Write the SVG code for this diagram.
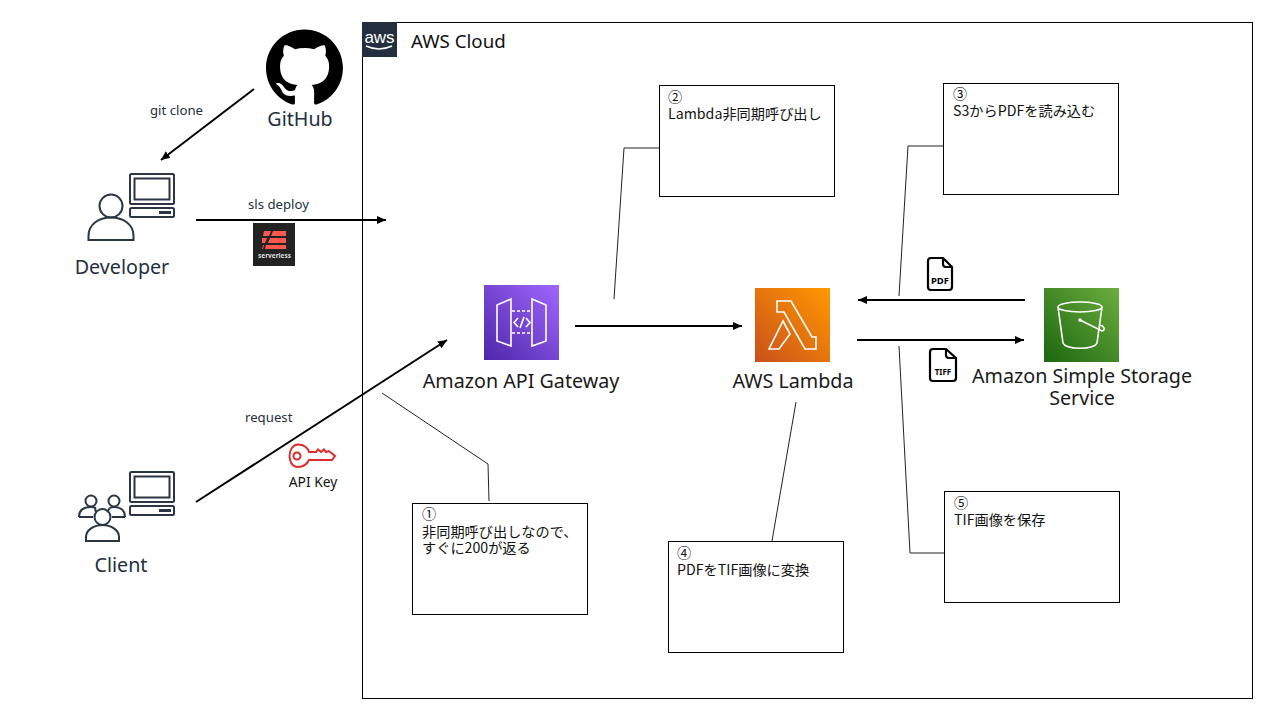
<svg xmlns="http://www.w3.org/2000/svg" width="1280" height="720" viewBox="0 0 1280 720">
<style>
text{font-family:"Noto Sans","Noto Sans CJK JP",sans-serif;fill:#000}
.cjk{font-family:"Noto Sans CJK JP","Noto Sans",sans-serif;font-size:14.2px;fill:#111}
.lbl{font-size:19.7px;fill:#1a1a1a}
.dark{font-size:19.7px;fill:#232f3e}
.small{font-size:13.2px;fill:#232f3e}
.box{fill:#fff;stroke:#000;stroke-width:1}
.ln{fill:none;stroke:#222;stroke-width:1}
.ar{fill:none;stroke:#000;stroke-width:2}
.ic{fill:none;stroke:#2b3544;stroke-width:2}
.wh{fill:none;stroke:#fff;stroke-width:1.6}
.file{fill:none;stroke:#000;stroke-width:2.2;stroke-linejoin:round}
</style>
<defs>
<marker id="a" markerUnits="userSpaceOnUse" markerWidth="10" markerHeight="10" refX="9" refY="5" orient="auto"><path d="M0 1L9 5L0 9z" fill="#000"/></marker>
<linearGradient id="gp" x1="0" y1="1" x2="1" y2="0"><stop offset="0" stop-color="#4d27a8"/><stop offset="1" stop-color="#a166ff"/></linearGradient>
<linearGradient id="go" x1="0" y1="1" x2="1" y2="0"><stop offset="0" stop-color="#c8511b"/><stop offset="1" stop-color="#ff9900"/></linearGradient>
<linearGradient id="gg" x1="0" y1="1" x2="1" y2="0"><stop offset="0" stop-color="#1b660f"/><stop offset="1" stop-color="#6cae3e"/></linearGradient>
</defs>
<g id="aws-cloud">
<rect x="362.5" y="22.5" width="890" height="676" fill="#fff" stroke="#000"/>
<rect x="362" y="22" width="35" height="35" fill="#232f3e"/>
<text x="379.500" y="43" text-anchor="middle" style="font-size:17px;fill:#fff;font-family:'Liberation Sans',sans-serif">aws</text>
<path d="M366 46Q379 52 392 46" fill="none" stroke="#fff" stroke-width="1.600"/>
<text x="411" y="48" style="font-size:18.7px;fill:#111">AWS Cloud</text>
</g>
<g id="connectors">
<path class="ln" d="M614 299L624 148H659"/>
<path class="ln" d="M899 296L908 146H943"/>
<path class="ln" d="M899 346L910 553H944"/>
<path class="ln" d="M382 393L488 464L489 501"/>
<path class="ln" d="M796 402L772 541"/>
<path class="ar" marker-end="url(#a)" d="M254 89L161 160"/>
<path class="ar" marker-end="url(#a)" d="M196 220H386"/>
<path class="ar" marker-end="url(#a)" d="M196 502L447 340"/>
<path class="ar" marker-end="url(#a)" d="M575 326H742"/>
<path class="ar" marker-end="url(#a)" d="M1025 300H858"/>
<path class="ar" marker-end="url(#a)" d="M857 340H1024"/>
</g>
<g id="github">
<path transform="translate(266 29.5) scale(4.81)" fill="#000" d="M8 0C3.58 0 0 3.58 0 8c0 3.54 2.29 6.53 5.47 7.59.4.07.55-.17.55-.38 0-.19-.01-.82-.01-1.49-2.01.37-2.53-.49-2.69-.94-.09-.23-.48-.94-.82-1.13-.28-.15-.68-.52-.01-.53.63-.01 1.08.58 1.23.82.72 1.21 1.87.87 2.33.66.07-.52.28-.87.51-1.07-1.78-.2-3.64-.89-3.64-3.95 0-.87.31-1.59.82-2.15-.08-.2-.36-1.02.08-2.12 0 0 .67-.21 2.2.82.64-.18 1.32-.27 2-.27.68 0 1.36.09 2 .27 1.53-1.04 2.2-.82 2.2-.82.44 1.1.16 1.92.08 2.12.51.56.82 1.27.82 2.15 0 3.07-1.87 3.75-3.65 3.95.29.25.54.73.54 1.48 0 1.07-.01 1.93-.01 2.2 0 .21.15.46.55.38A8.013 8.013 0 0016 8c0-4.42-3.58-8-8-8z"/>
<text class="dark" x="300" y="126" text-anchor="middle">GitHub</text>
</g>
<g id="developer">
<rect class="ic" x="130" y="174" width="44" height="30" rx="1.500"/><rect class="ic" x="134.500" y="178.500" width="35" height="21"/>
<rect class="ic" x="130" y="208" width="44" height="9" rx="1.500"/><rect x="159" y="211" width="12" height="3" fill="#2b3544"/>
<circle class="ic" cx="111" cy="206" r="11.500"/><path class="ic" d="M88.500 240V236C88.500 224 99 217.500 111 217.500S133.500 224 133.500 236V240Z"/>
<text class="dark" x="122" y="274" text-anchor="middle">Developer</text>
</g>
<g id="client">
<rect class="ic" x="130" y="472" width="44" height="30" rx="1.500"/><rect class="ic" x="134.500" y="476.500" width="35" height="21"/>
<rect class="ic" x="130" y="506" width="44" height="9" rx="1.500"/><rect x="159" y="509" width="12" height="3" fill="#2b3544"/>
<circle class="ic" cx="91" cy="501" r="5.500"/><path class="ic" d="M79 517C79 510 84 507 91 507S94 509 96 512"/>
<circle class="ic" cx="114" cy="501" r="5.500"/><path class="ic" d="M125 517C125 510 120 507 114 507S110 509 107 512"/><path class="ic" d="M79 517H93M112 517H125"/>
<circle class="ic" cx="102.500" cy="517" r="8"/><path class="ic" d="M86 541V537C86 530 94 525 102.500 525S119 530 119 537V541Z"/>
<text class="dark" x="121" y="572" text-anchor="middle">Client</text>
</g>
<g id="serverless">
<rect x="253" y="223" width="42" height="43" fill="#222"/>
<path fill="#fd5750" d="M264 231H271L269 236H263ZM273 231H286V236H271ZM262 238H267L265 243H262ZM270 238H286V243H268ZM263 245H264L263 249H262ZM266 245H286V249H265Z"/>
<text x="274.500" y="258" text-anchor="middle" style="font-size:6.500px;font-weight:700;fill:#ddd">serverless</text>
</g>
<g id="labels">
<text class="small" x="150" y="115">git clone</text>
<text class="small" x="248" y="209">sls deploy</text>
<text class="small" x="245" y="422">request</text>
</g>
<g id="api-key">
<path fill="none" stroke="#dd2c2c" stroke-width="2" d="M298 444.500C304 444.500 308 448 309 452H316L318 449.500L321 452L324 449.500L326 452L329 451L335 456L332 460H309C307 464 303 467 298 467C292 467 289.500 461 289.500 456C289.500 450 293 444.500 298 444.500Z"/>
<circle cx="297" cy="456" r="3.500" fill="none" stroke="#dd2c2c" stroke-width="2"/>
<text x="313" y="487" text-anchor="middle" style="font-size:13.800px;fill:#111">API Key</text>
</g>
<g id="api-gateway">
<rect x="484" y="285" width="75" height="75" fill="url(#gp)"/>
<path class="wh" d="M511 299V346L497 341V305ZM532 299V346L546 341V305Z"/>
<path class="wh" stroke-dasharray="3 2" d="M512 311H532M512 333H532"/>
<path class="wh" d="M518 318L514 322.500L518 327M526 318L530 322.500L526 327M524 317L520 328"/>
<text class="lbl" x="521" y="388" text-anchor="middle">Amazon API Gateway</text>
</g>
<g id="lambda">
<rect x="755" y="288" width="75" height="74" fill="url(#go)"/>
<path class="wh" d="M777 301H791L812 337H816V349H805L784 312H777ZM783 321L790 334L779 349H769Z"/>
<text class="lbl" x="793" y="388" text-anchor="middle">AWS Lambda</text>
</g>
<g id="s3">
<rect x="1044" y="288" width="75" height="74" fill="url(#gg)"/>
<ellipse class="wh" cx="1080" cy="307" rx="22" ry="5"/>
<path class="wh" d="M1058 307L1063 343C1066 350 1094 350 1097 343L1102 307"/>
<circle cx="1080" cy="320" r="1.800" fill="#fff"/>
<path class="wh" d="M1080 320L1102 331C1106 330 1104 326 1100 325"/>
<text class="lbl" x="1082" y="383" text-anchor="middle">Amazon Simple Storage</text>
<text class="lbl" x="1082" y="405" text-anchor="middle">Service</text>
</g>
<g id="pdf-file">
<path class="file" d="M931 258H943L952 267V287Q952 290 949 290H931Q928 290 928 287V261Q928 258 931 258Z M943 258V264Q943 267 946 267H952"/>
<text x="940" y="284" text-anchor="middle" style="font-size:9.500px;font-weight:700">PDF</text>
</g>
<g id="tiff-file">
<path class="file" d="M933 349H946L956 358V378Q956 381 953 381H933Q930 381 930 378V352Q930 349 933 349Z M946 349V355Q946 358 949 358H956"/>
<text x="943" y="375" text-anchor="middle" style="font-size:8px;font-weight:700">TIFF</text>
</g>
<g id="note1"><rect class="box" x="412.500" y="503.500" width="175" height="111"/>
<text class="cjk" x="422" y="519">①</text><text class="cjk" x="422" y="537">非同期呼び出しなので、</text><text class="cjk" x="422" y="553">すぐに200が返る</text></g>
<g id="note2"><rect class="box" x="659.500" y="85.500" width="175" height="111"/>
<text class="cjk" x="668" y="102">②</text><text class="cjk" x="668" y="119">Lambda非同期呼び出し</text></g>
<g id="note3"><rect class="box" x="943.500" y="83.500" width="175" height="111"/>
<text class="cjk" x="953" y="99">③</text><text class="cjk" x="953" y="116">S3からPDFを読み込む</text></g>
<g id="note4"><rect class="box" x="668.500" y="541.500" width="175" height="111"/>
<text class="cjk" x="677" y="558">④</text><text class="cjk" x="677" y="575">PDFをTIF画像に変換</text></g>
<g id="note5"><rect class="box" x="944.500" y="491.500" width="175" height="111"/>
<text class="cjk" x="954" y="508">⑤</text><text class="cjk" x="954" y="525">TIF画像を保存</text></g>
</svg>
